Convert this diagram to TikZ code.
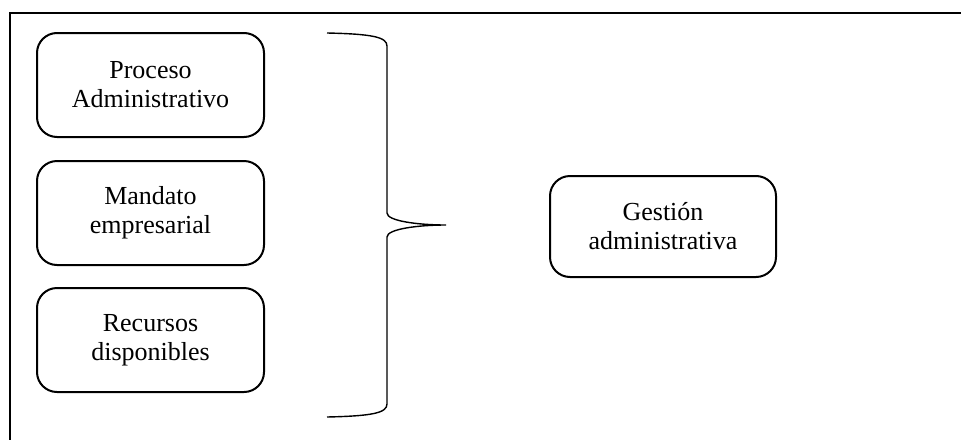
\documentclass[tikz,border=0pt]{standalone}
\usepackage{fontspec}
\setmainfont{Liberation Serif}
\begin{document}
\begin{tikzpicture}[x=0.5pt,y=-0.5pt,
  box/.style={draw,line width=1pt,rounded corners=10pt,align=center,
    minimum width=113.5pt,minimum height=52pt,inner sep=0pt,
    font=\fontsize{13pt}{14.5pt}\selectfont},
  frame/.style={line width=1pt},
  bracestyle/.style={line width=0.7pt}]
\useasboundingbox (0,0) rectangle (961,439);
\draw[frame] (10,440) -- (10,13) -- (962,13);
\node[box] (p) at (150.5,85) {Proceso\\Administrativo};
\node[box] (m) at (150.5,213) {Mandato\\empresarial};
\node[box] (r) at (150.5,340) {Recursos\\disponibles};
\node[box,minimum width=113pt,minimum height=50.5pt] (g) at (663,226.5) {Gestión\\administrativa};
\coordinate (bt) at (327,33);
\coordinate (bm) at (446,225);
\coordinate (bb) at (327,417);
\draw[bracestyle] (bt) .. controls (372,34) and (387,37) .. (387,46) -- (387,213)
  .. controls (387,221) and (418,225) .. (bm)
  .. controls (418,225) and (387,229) .. (387,237) -- (387,404)
  .. controls (387,413) and (372,416) .. (bb);
\end{tikzpicture}
\end{document}
